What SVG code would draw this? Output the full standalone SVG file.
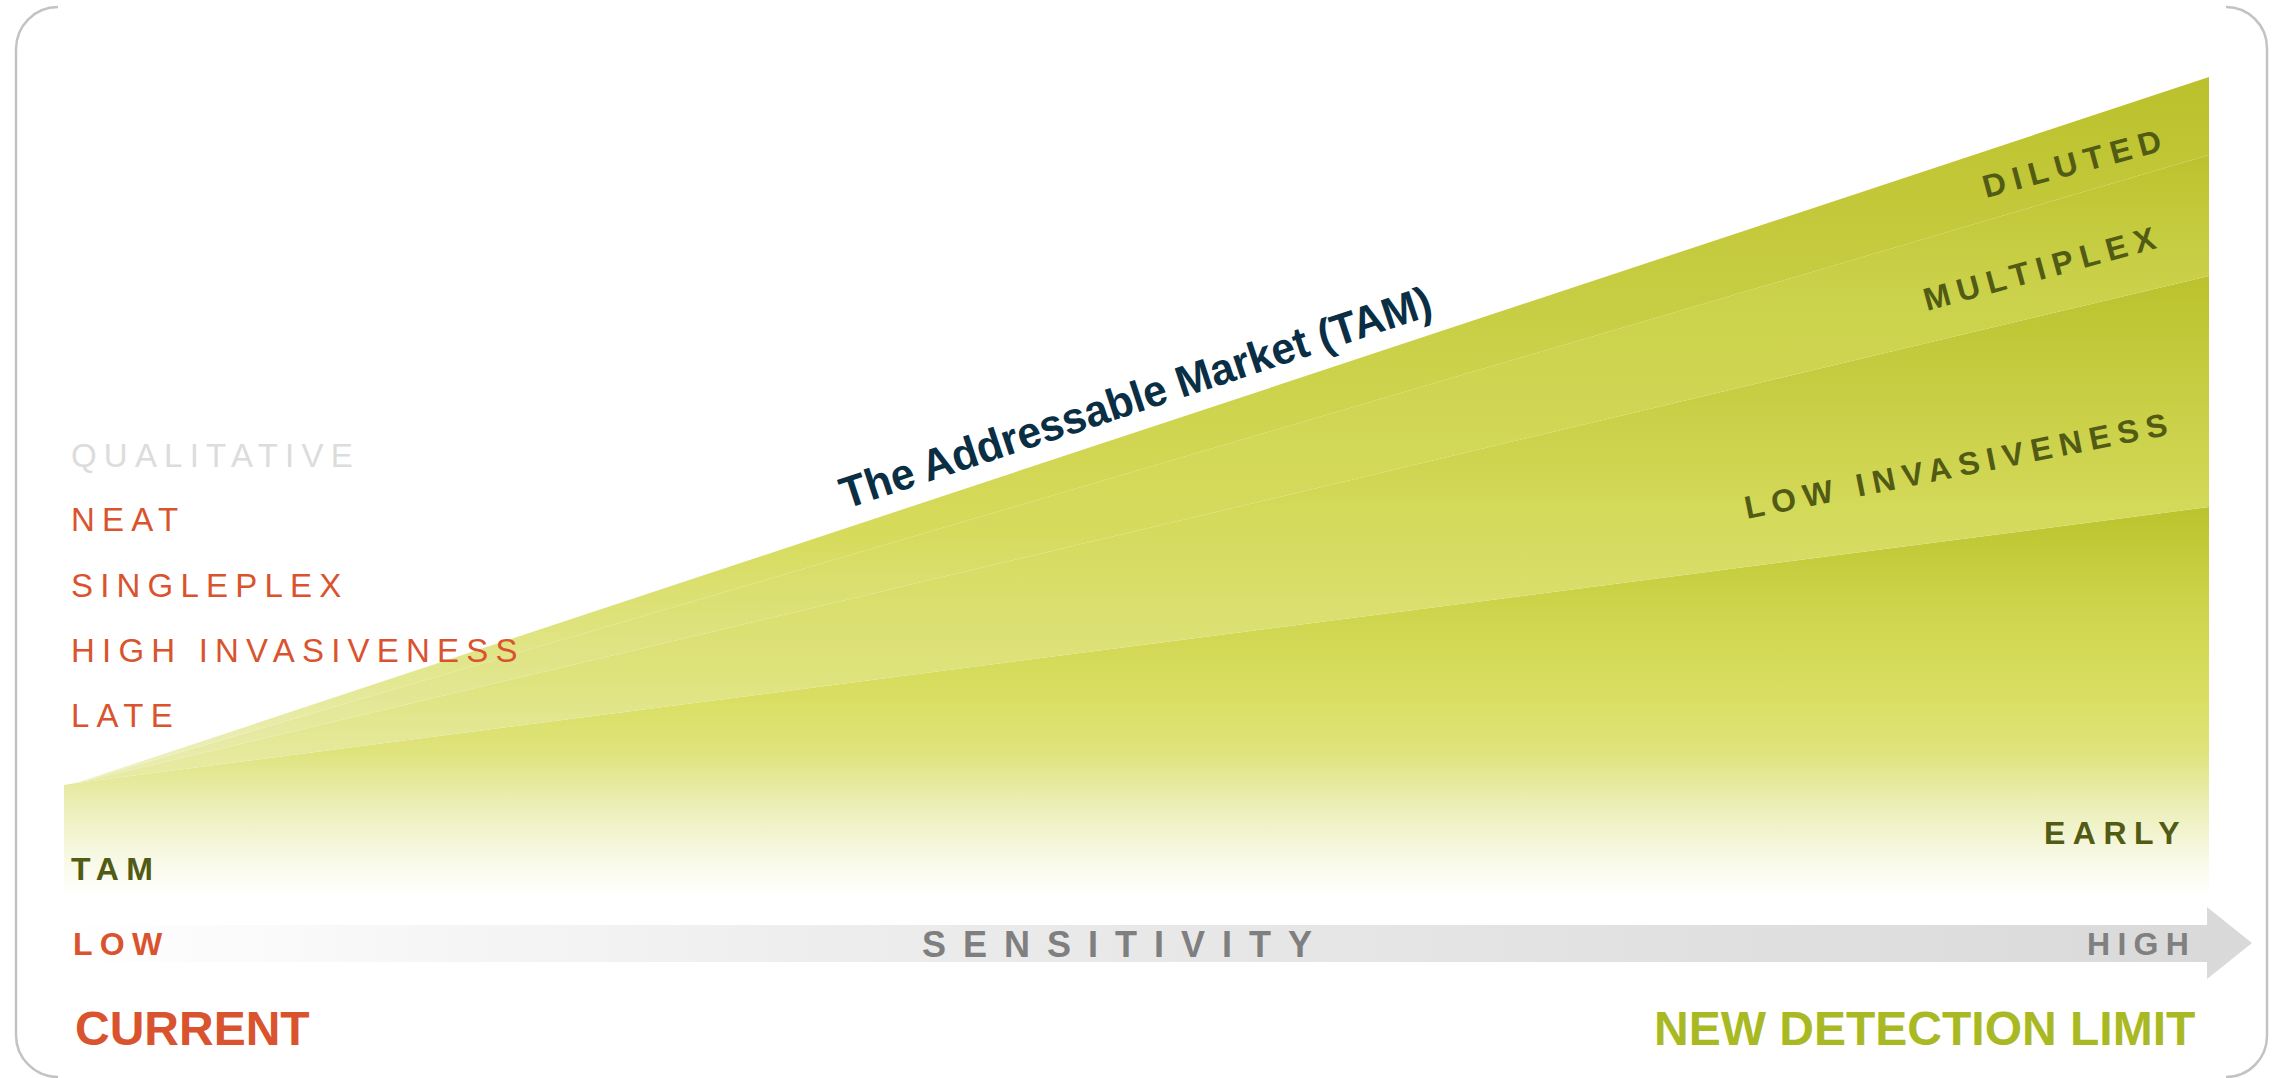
<svg xmlns="http://www.w3.org/2000/svg" width="2277" height="1078" viewBox="0 0 2277 1078">
  <defs>
    <linearGradient id="gA" x1="0" y1="0" x2="0" y2="1">
      <stop offset="0" stop-color="#BBC12C"/>
      <stop offset="0.35" stop-color="#C9CF45"/>
      <stop offset="0.65" stop-color="#D6DB5C"/>
      <stop offset="0.85" stop-color="#E3E790"/>
      <stop offset="1" stop-color="#EFF1C6"/>
    </linearGradient>
    <linearGradient id="gB" x1="0" y1="0" x2="0" y2="1">
      <stop offset="0" stop-color="#BCC22E"/>
      <stop offset="0.2" stop-color="#CAD149"/>
      <stop offset="0.6" stop-color="#D6DB5E"/>
      <stop offset="0.85" stop-color="#E2E690"/>
      <stop offset="1" stop-color="#EAEDB4"/>
    </linearGradient>
    <linearGradient id="gC" x1="0" y1="0" x2="0" y2="1">
      <stop offset="0" stop-color="#BBC22D"/>
      <stop offset="0.45" stop-color="#D3D958"/>
      <stop offset="0.8" stop-color="#DFE37E"/>
      <stop offset="1" stop-color="#E8EBA8"/>
    </linearGradient>
    <linearGradient id="gD" gradientUnits="userSpaceOnUse" x1="0" y1="507" x2="0" y2="897">
      <stop offset="0" stop-color="#BBC32D"/>
      <stop offset="0.25" stop-color="#CDD44A"/>
      <stop offset="0.5" stop-color="#DADF64"/>
      <stop offset="0.63" stop-color="#DFE37C"/>
      <stop offset="0.76" stop-color="#EBEEB5"/>
      <stop offset="0.89" stop-color="#F7F8E2"/>
      <stop offset="1" stop-color="#FFFFFF"/>
    </linearGradient>
    <linearGradient id="gArrow" gradientUnits="userSpaceOnUse" x1="64" y1="0" x2="2252" y2="0">
      <stop offset="0" stop-color="#FFFFFF"/>
      <stop offset="0.15" stop-color="#F7F7F7"/>
      <stop offset="0.4" stop-color="#EBEBEB"/>
      <stop offset="0.7" stop-color="#E2E2E2"/>
      <stop offset="1" stop-color="#D9D9D9"/>
    </linearGradient>
  </defs>
  <style>
    text { font-family: "Liberation Sans", Arial, sans-serif; }
    .border { fill: none; stroke: #C3C3C3; stroke-width: 2.5; }
    .left { font-size: 33px; fill: #D9542E; letter-spacing: 7.2px; }
    .qual { fill: #DCDCDC; }
    .olive { font-size: 32px; font-weight: bold; fill: #515B14; letter-spacing: 7.5px; }
    .axis { font-size: 32px; font-weight: bold; letter-spacing: 7.3px; }
    .big { font-size: 48px; font-weight: bold; }
  </style>

  <g id="frame">
    <path class="border" d="M58,7 A42,42 0 0 0 16,49 V1035 A42,42 0 0 0 58,1077"/>
    <path class="border" d="M2226,7 A41,41 0 0 1 2267,48 V1036 A41,41 0 0 1 2226,1077"/>
  </g>

  <g id="market">
    <polygon id="band-early" fill="url(#gD)" points="64,785 76,783 2209,507 2209,897 64,897"/>
    <polygon id="band-low-invasiveness" fill="url(#gC)" points="76,783 2209,276 2209,507"/>
    <polygon id="band-multiplex" fill="url(#gB)" points="76,783 2209,155 2209,276"/>
    <polygon id="band-diluted" fill="url(#gA)" points="76,783 2209,77 2209,155"/>
  </g>

  <g id="sensitivity-axis">
    <path fill="url(#gArrow)" d="M64,925 H2207 V907 L2252,943 L2207,979 V962 H64 Z"/>
    <text class="axis" x="73" y="955" fill="#D9542E">LOW</text>
    <text x="922" y="957" font-size="36" font-weight="bold" fill="#7F7F7F" letter-spacing="17">SENSITIVITY</text>
    <text class="axis" x="2087" y="955" fill="#808080">HIGH</text>
  </g>

  <g id="current-labels">
    <text class="left qual" x="71" y="467">QUALITATIVE</text>
    <text class="left" x="71" y="531">NEAT</text>
    <text class="left" x="71" y="597">SINGLEPLEX</text>
    <text class="left" x="71" y="662">HIGH INVASIVENESS</text>
    <text class="left" x="71" y="727">LATE</text>
    <text class="olive" x="71" y="880">TAM</text>
  </g>

  <g id="new-labels">
    <text class="olive" transform="translate(1986,198) rotate(-15)">DILUTED</text>
    <text class="olive" transform="translate(1927,311) rotate(-15.3)">MULTIPLEX</text>
    <text class="olive" transform="translate(1747,519) rotate(-11.3)" letter-spacing="8">LOW INVASIVENESS</text>
    <text class="olive" x="2044" y="844">EARLY</text>
  </g>

  <g id="title">
    <text transform="translate(846,509) rotate(-18.3)" font-size="44" font-weight="bold" fill="#0A2F45" textLength="620" lengthAdjust="spacingAndGlyphs">The Addressable Market (TAM)</text>
  </g>

  <g id="footer">
    <text class="big" x="75" y="1045" fill="#D9542E">CURRENT</text>
    <text class="big" x="1654" y="1045" fill="#A9B923">NEW DETECTION LIMIT</text>
  </g>
</svg>
